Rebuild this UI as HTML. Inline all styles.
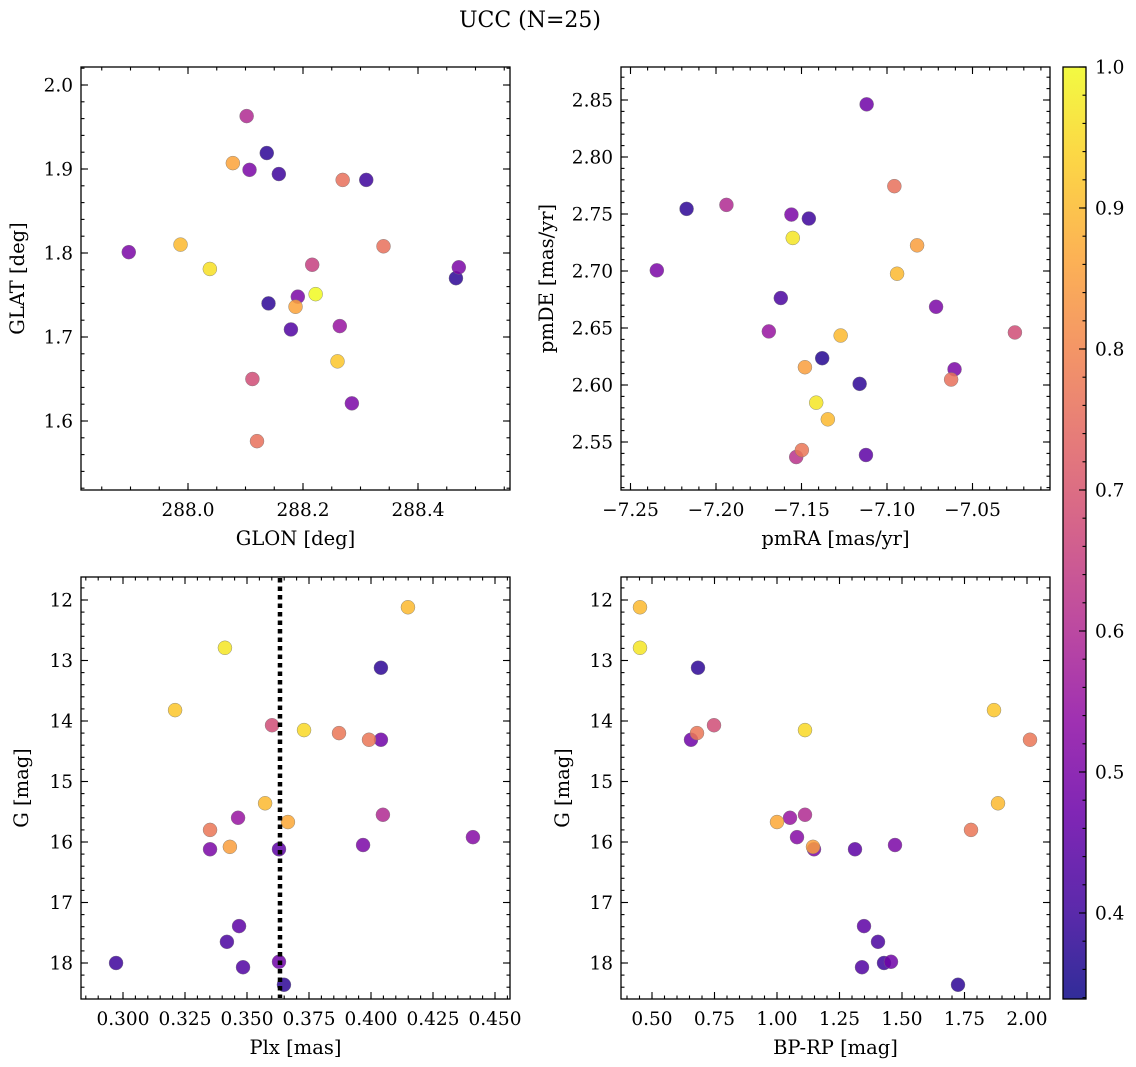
<!DOCTYPE html>
<html><head><meta charset="utf-8"><style>
html,body{margin:0;padding:0;background:#fff;}
svg{display:block;font-family:"DejaVu Serif","Liberation Serif",serif;}
</style></head><body>
<svg id="fig" width="1136" height="1067" viewBox="0 0 1136 1067" xmlns="http://www.w3.org/2000/svg">
<defs>
<linearGradient id="plasmaGrad" x1="0" y1="1" x2="0" y2="0">
<stop offset="0" stop-color="#0d0887"/><stop offset="0.1" stop-color="#41049d"/><stop offset="0.2" stop-color="#6a00a8"/><stop offset="0.3" stop-color="#8f0da4"/><stop offset="0.4" stop-color="#b12a90"/><stop offset="0.5" stop-color="#cc4778"/><stop offset="0.6" stop-color="#e16462"/><stop offset="0.7" stop-color="#f2844b"/><stop offset="0.8" stop-color="#fca636"/><stop offset="0.9" stop-color="#fcce25"/><stop offset="1" stop-color="#f0f921"/>
</linearGradient>
</defs>
<text x="530" y="27" font-size="22" text-anchor="middle">UCC (N=25)</text>
</svg>
<script>
// ---- data ----
const glon = [288.102,288.137,288.078,288.107,288.158,288.269,288.310,287.897,287.987,288.038,288.340,288.216,288.471,288.466,288.191,288.222,288.187,288.140,288.179,288.264,288.260,288.112,288.285,288.120];
const glat = [1.963,1.919,1.907,1.899,1.894,1.887,1.887,1.801,1.810,1.781,1.808,1.786,1.783,1.770,1.748,1.751,1.736,1.740,1.709,1.713,1.671,1.650,1.621,1.576];
const probPos = [0.6,0.38,0.86,0.5,0.4,0.76,0.4,0.5,0.9,0.96,0.76,0.65,0.5,0.38,0.5,1.0,0.86,0.38,0.43,0.55,0.92,0.68,0.5,0.76];

const pmra = [-7.1119,-7.0957,-7.2172,-7.1939,-7.1559,-7.1457,-7.1551,-7.0824,-7.2346,-7.0941,-7.1621,-7.0713,-7.1691,-7.0252,-7.1271,-7.1379,-7.1480,-7.0605,-7.0625,-7.1160,-7.1414,-7.1346,-7.1498,-7.1531,-7.1123];
const pmde = [2.8462,2.7744,2.7545,2.7580,2.7495,2.7460,2.7290,2.7225,2.7006,2.6976,2.6763,2.6686,2.6470,2.6461,2.6434,2.6235,2.6156,2.6138,2.6048,2.6010,2.5845,2.5699,2.5429,2.5368,2.5386];
const probPm = [0.48,0.76,0.38,0.6,0.5,0.4,0.97,0.85,0.5,0.9,0.42,0.5,0.55,0.68,0.9,0.37,0.85,0.5,0.76,0.38,0.97,0.9,0.77,0.62,0.45];

const plx = [0.4149,0.3411,0.3210,0.4040,0.3601,0.3730,0.3871,0.3992,0.4040,0.3573,0.4048,0.3464,0.3665,0.3351,0.3431,0.3351,0.3629,0.3968,0.4411,0.3468,0.3419,0.2972,0.3484,0.3629,0.3649];
const gmag = [12.12,12.79,13.82,13.12,14.07,14.15,14.20,14.31,14.31,15.36,15.55,15.60,15.67,15.80,16.08,16.12,16.12,16.05,15.92,17.39,17.65,18.00,18.07,17.98,18.36];
const bprp = [0.452,0.452,1.868,0.684,0.748,1.112,0.68,2.012,0.656,1.884,1.112,1.052,1.0,1.776,1.144,1.148,1.312,1.472,1.08,1.348,1.404,1.428,1.34,1.456,1.724];
const probPhot = [0.9,0.97,0.92,0.38,0.68,0.95,0.77,0.77,0.48,0.9,0.6,0.55,0.87,0.77,0.85,0.5,0.45,0.5,0.52,0.45,0.42,0.4,0.43,0.48,0.38];
const plxMedian = 0.3633;

const ticksGlon = ["288.0","288.2","288.4"];
const ticksGlat = ["1.6","1.7","1.8","1.9","2.0"];
const ticksPmra = ["−7.25","−7.20","−7.15","−7.10","−7.05"];
const ticksPmde = ["2.55","2.60","2.65","2.70","2.75","2.80","2.85"];
const ticksPlx = ["0.300","0.325","0.350","0.375","0.400","0.425","0.450"];
const ticksG = ["12","13","14","15","16","17","18"];
const ticksBprp = ["0.50","0.75","1.00","1.25","1.50","1.75","2.00"];
const ticksCbar = ["0.4","0.5","0.6","0.7","0.8","0.9","1.0"];

const cMin = 0.339, cMax = 1.0;
// ---- helpers ----
const NS = "http://www.w3.org/2000/svg";
const svg = document.getElementById('fig');
function mk(tag, attrs, parent){const e=document.createElementNS(NS,tag);for(const k in attrs)e.setAttribute(k,attrs[k]);(parent||svg).appendChild(e);return e;}
const stops=[[13,8,135],[65,4,157],[106,0,168],[143,13,164],[177,42,144],[204,71,120],[225,100,98],[242,132,75],[252,166,54],[252,206,37],[240,249,33]];
function plasma(v){let t=(v-cMin)/(cMax-cMin);t=Math.max(0,Math.min(1,t))*10;const i=Math.min(9,Math.floor(t)),f=t-i;const a=stops[i],b=stops[i+1];return `rgb(${Math.round(a[0]+(b[0]-a[0])*f)},${Math.round(a[1]+(b[1]-a[1])*f)},${Math.round(a[2]+(b[2]-a[2])*f)})`;}
function lin(d0,d1,r0,r1){return v=>r0+(v-d0)/(d1-d0)*(r1-r0);}

function panel(name,L,T,R,B,xs,ys,xMaj,xMin,yMaj,yMin,xLabels,yLabels,xTitle,yTitle,yTitleX){
  const g=mk('g',{});
  
  
  const eps=1e-9;
  function ticksX(step,len){
    const d0=Math.min(xs.d0,xs.d1),d1=Math.max(xs.d0,xs.d1);
    for(let v=Math.ceil(d0/step-eps)*step; v<=d1+eps; v+=step){
      const x=xs.f(v);
      if(x<L-0.5||x>R+0.5)continue;
      mk('line',{x1:x,y1:B,x2:x,y2:B-len,stroke:'#000','stroke-width':1.1},g);
      mk('line',{x1:x,y1:T,x2:x,y2:T+len,stroke:'#000','stroke-width':1.1},g);
    }
  }
  function ticksY(step,len){
    const d0=Math.min(ys.d0,ys.d1),d1=Math.max(ys.d0,ys.d1);
    for(let v=Math.ceil(d0/step-eps)*step; v<=d1+eps; v+=step){
      const y=ys.f(v);
      if(y<T-0.5||y>B+0.5)continue;
      mk('line',{x1:L,y1:y,x2:L+len,y2:y,stroke:'#000','stroke-width':1.1},g);
      mk('line',{x1:R,y1:y,x2:R-len,y2:y,stroke:'#000','stroke-width':1.1},g);
    }
  }
  ticksX(xMin,3.5);ticksX(xMaj,7);ticksY(yMin,3.5);ticksY(yMaj,7);
  mk('rect',{x:L,y:T,width:R-L,height:B-T,fill:'none',stroke:'#000','stroke-width':1.3},g);
  xLabels.forEach(s=>{
    const v=parseFloat(s.replace('−','-'));
    const t=mk('text',{x:xs.f(v),y:B+26,'font-size':18.5,'text-anchor':'middle'},g);
    
    
    t.textContent=s;
  });
  yLabels.forEach(s=>{
    const v=parseFloat(s);
    const t=mk('text',{x:L-8,y:ys.f(v)+6.5,'font-size':18.5,'text-anchor':'end'},g);
    
    
    t.textContent=s;
  });
  const xt=mk('text',{x:(L+R)/2,y:B+55,'font-size':19.5,'text-anchor':'middle'},g);
  
  
  xt.textContent=xTitle;
  const yt=mk('text',{x:0,y:0,'font-size':19.5,'text-anchor':'middle',transform:`translate(${yTitleX},${(T+B)/2}) rotate(-90)`},g);
  
  
  yt.textContent=yTitle;
  return g;
}
function scatter(g,xs,ys,xv,yv,cv){
  const order=xv.map((_,i)=>i).sort((a,b)=>cv[a]-cv[b]);
  order.forEach(i=>{
    const c=mk('circle',{cx:xs.f(xv[i]),cy:ys.f(yv[i]),r:7,fill:plasma(cv[i]),'fill-opacity':0.85,stroke:'#777','stroke-width':0.4},g);
    
    
  });
}
function ax(d0,d1,r0,r1){return {d0,d1,f:lin(d0,d1,r0,r1)};}

// Panel 1
let xs=ax(288.0,288.2,188,303), ys=ax(2.0,1.9,85,169);
xs.d0=288.0+(81-188)/575;xs.d1=288.0+(510-188)/575;ys.d0=2.0+(85-67)/840;ys.d1=2.0-(490-85)/840;
let g=panel('panel-glon-glat',81,67,510,490,xs,ys,0.2,0.05,0.1,0.02,ticksGlon,ticksGlat,'GLON [deg]','GLAT [deg]',24);
scatter(g,xs,ys,glon,glat,probPos);

// Panel 2
xs=ax(-7.25,-7.20,630.5,716); ys=ax(2.85,2.80,100,157);
xs.d0=-7.25+(621-630.5)/1710; xs.d1=-7.25+(1050-630.5)/1710; ys.d0=2.85+(100-67)/1140; ys.d1=2.85-(490-100)/1140;
g=panel('panel-pmra-pmde',621,67,1050,490,xs,ys,0.05,0.01,0.05,0.01,ticksPmra,ticksPmde,'pmRA [mas/yr]','pmDE [mas/yr]',553);
scatter(g,xs,ys,pmra,pmde,probPm);

// Panel 3
xs=ax(0.3,0.325,123,185); ys=ax(12,13,600,660.5);
xs.d0=0.3+(81-123)/2480; xs.d1=0.3+(510-123)/2480; ys.d0=12+(577-600)/60.5; ys.d1=12+(999-600)/60.5;
g=panel('panel-plx-g',81,577,510,999,xs,ys,0.025,0.005,1,0.2,ticksPlx,ticksG,'Plx [mas]','G [mag]',28);
scatter(g,xs,ys,plx,gmag,probPhot);
const ml=mk('line',{x1:xs.f(plxMedian),y1:578,x2:xs.f(plxMedian),y2:998,stroke:'#000','stroke-width':4.5,'stroke-dasharray':'4.5,4'},g);



// Panel 4
xs=ax(0.5,0.75,652,714.5); ys=ax(12,13,600,660.5);
xs.d0=0.5+(621-652)/250; xs.d1=0.5+(1050-652)/250; ys.d0=12+(577-600)/60.5; ys.d1=12+(999-600)/60.5;
g=panel('panel-bprp-g',621,577,1050,999,xs,ys,0.25,0.05,1,0.2,ticksBprp,ticksG,'BP-RP [mag]','G [mag]',569);
scatter(g,xs,ys,bprp,gmag,probPhot);

// Colorbar
const cb=mk('g',{});


const cT=67,cB=999,cL=1063,cR=1086;
const cy=lin(cMin,cMax,cB,cT);
mk('rect',{x:cL,y:cT,width:cR-cL,height:cB-cT,fill:'url(#plasmaGrad)','fill-opacity':0.85},cb);
for(let v=0.34;v<=1.0001;v+=0.02){const y=cy(v);mk('line',{x1:cR,y1:y,x2:cR-3.5,y2:y,stroke:'#000','stroke-width':1.1},cb);}
ticksCbar.forEach(s=>{const v=parseFloat(s);const y=cy(v);
  mk('line',{x1:cR,y1:y,x2:cR-7,y2:y,stroke:'#000','stroke-width':1.1},cb);
  const t=mk('text',{x:cR+9,y:y+6.5,'font-size':18.5},cb);
  
  
  t.textContent=s;});
mk('rect',{x:cL,y:cT,width:cR-cL,height:cB-cT,fill:'none',stroke:'#000','stroke-width':1.3},cb);
</script>
</body></html>
